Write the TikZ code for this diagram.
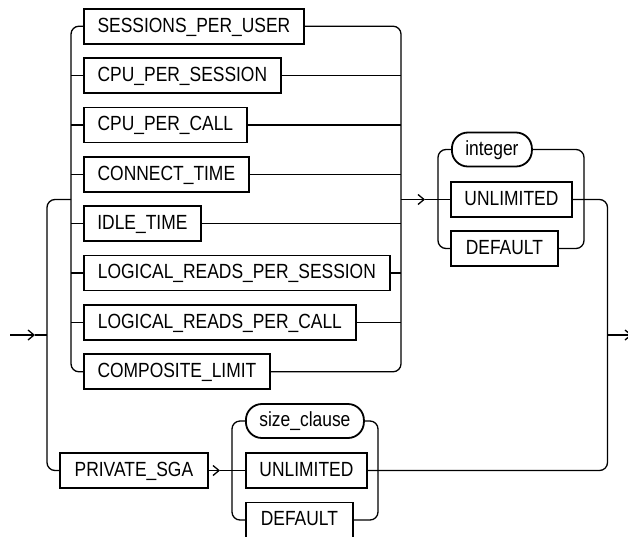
\documentclass[tikz,border=0pt]{standalone}
\usepackage{fontspec}
\newfontfamily\rr{Liberation Sans}[FakeStretch=0.85]
\usetikzlibrary{arrows.meta}
\begin{document}
\begin{tikzpicture}[x=1pt,y=-1pt,
  rail/.style={line width=1.3pt,rounded corners=8pt},
  arr/.style={-{Straight Barb[length=6pt,width=10pt,line width=1.3pt]}},
  kw/.style={draw,line width=1.8pt,anchor=west,minimum height=35pt,inner sep=0pt,
     text height=14.7pt,text depth=3pt,font=\rr\fontsize{20.5}{24}\selectfont},
  ov/.style={kw,rounded corners=16pt,minimum height=34pt}]
\useasboundingbox (0,0) rectangle (628,536);
% inner choice boxes
\node[kw,minimum width=220pt] (s1) at (83,26.2) {SESSIONS\_PER\_USER};
\node[kw,minimum width=197pt] (s2) at (83,75.6) {CPU\_PER\_SESSION};
\node[kw,minimum width=163pt] (s3) at (83,125) {CPU\_PER\_CALL};
\node[kw,minimum width=165pt] (s4) at (83,174.3) {CONNECT\_TIME};
\node[kw,minimum width=117pt] (s5) at (83,223.7) {IDLE\_TIME};
\node[kw,minimum width=306pt] (s6) at (83,273) {LOGICAL\_READS\_PER\_SESSION};
\node[kw,minimum width=272pt] (s7) at (83,322.4) {LOGICAL\_READS\_PER\_CALL};
\node[kw,minimum width=186pt] (s8) at (83,371.8) {COMPOSITE\_LIMIT};
% value choice
\node[ov,minimum width=80pt] (int) at (451,149.5) {integer};
\node[kw,minimum width=121pt] (u1) at (450,199.5) {UNLIMITED};
\node[kw,minimum width=107pt] (d1) at (450,248.5) {DEFAULT};
% private sga
\node[kw,minimum width=148pt] (psga) at (59,470.5) {PRIVATE\_SGA};
\node[ov,minimum width=118pt] (sz) at (245,421) {size\_clause};
\node[kw,minimum width=121pt] (u2) at (245,470.5) {UNLIMITED};
\node[kw,minimum width=107pt] (d2) at (245,520) {DEFAULT};
% rail coordinates
\coordinate (inL) at (71,0);
\coordinate (inR) at (401,0);
\coordinate (outL) at (47,0);
\coordinate (bigR) at (607.5,0);
\coordinate (intL) at (438,0);
\coordinate (intR) at (584,0);
\coordinate (szL) at (232,0);
\coordinate (szR) at (378,0);
\coordinate (mid) at (0,199.5);
\coordinate (start) at (10,335);
\coordinate (entryTip) at (35,335);
\coordinate (finish) at (632,335);
\coordinate (intTip) at (425,199.5);
\coordinate (psTip) at (220,470.5);
% inner choice rails
\draw[rail] (s1.west) -| (inL |- mid) |- (s8.west);
\draw[rail] (s1.east) -| (inR |- mid) |- (s8.east);
\foreach \i in {2,...,7} {
  \draw[rail] (s\i.west) -- (s\i.west -| inL);
  \draw[rail] (s\i.east) -- (s\i.east -| inR);
}
% entry and outer rail
\draw[rail,arr] (start) -- (entryTip);
\draw[rail] (entryTip) -- (entryTip -| outL);
\draw[rail] (inL |- mid) -| (outL |- start) |- (psga.west);
% to value choice
\draw[rail,arr] (inR |- mid) -- (intTip);
\draw[rail] (intTip) -- (u1.west);
\draw[rail] (int.west) -| (intL |- u1) |- (d1.west);
\draw[rail] (int.east) -| (intR |- u1) |- (d1.east);
% big right rail and exit
\draw[rail] (u1.east) -| (bigR |- finish) |- (u2.east);
\draw[rail,arr] (bigR |- finish) -- (finish);
% private sga choice
\draw[rail,arr] (psga.east) -- (psTip);
\draw[rail] (psTip) -- (u2.west);
\draw[rail] (sz.west) -| (szL |- u2) |- (d2.west);
\draw[rail] (sz.east) -| (szR |- u2) |- (d2.east);
\end{tikzpicture}
\end{document}
